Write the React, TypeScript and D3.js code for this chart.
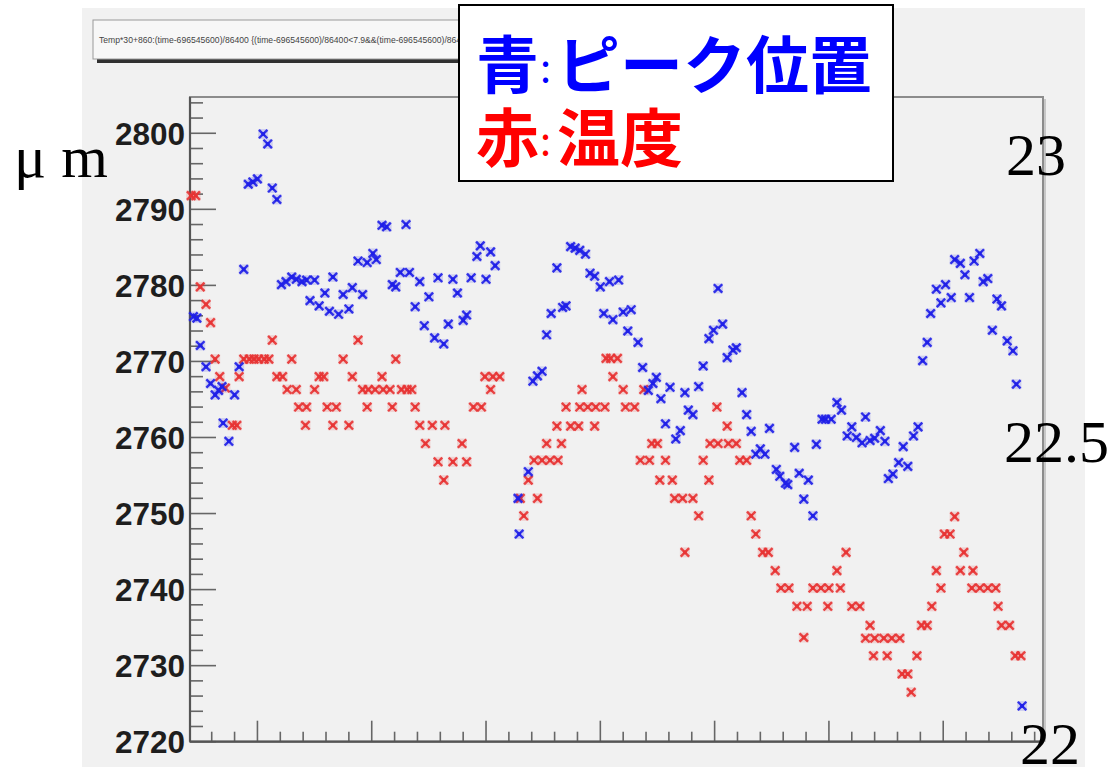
import React from "react";
import * as d3 from "d3";

// time in days (arbitrary origin), position in µm
const blueT = [0.44,0.47,0.50,0.55,0.59,0.63,0.66,0.69,0.70,0.75,0.80,0.84,0.88,0.92,0.96,1.00,1.05,1.09,1.13,1.17,1.21,1.25,1.30,1.34,1.39,1.43,1.46,1.50,1.54,1.59,1.63,1.66,1.71,1.75,1.80,1.83,1.88,1.92,1.96,2.01,2.04,2.09,2.13,2.18,2.21,2.25,2.30,2.33,2.38,2.42,2.46,2.50,2.55,2.58,2.63,2.67,2.71,2.75,2.80,2.83,2.87,2.92,2.95,3.00,3.04,3.08,3.28,3.29,3.37,3.41,3.45,3.49,3.53,3.57,3.62,3.67,3.70,3.74,3.78,3.82,3.87,3.91,3.95,4.00,4.03,4.08,4.11,4.16,4.20,4.24,4.27,4.33,4.37,4.42,4.46,4.49,4.53,4.57,4.61,4.66,4.70,4.74,4.77,4.81,4.86,4.90,4.95,4.99,5.03,5.07,5.11,5.16,5.19,5.24,5.28,5.32,5.36,5.40,5.44,5.48,5.54,5.57,5.62,5.64,5.70,5.74,5.78,5.82,5.86,5.89,5.94,5.97,6.02,6.07,6.11,6.16,6.20,6.24,6.29,6.32,6.36,6.40,6.45,6.49,6.52,6.56,6.61,6.65,6.69,6.74,6.78,6.82,6.86,6.89,6.94,6.98,7.02,7.07,7.10,7.15,7.19,7.23,7.27,7.32,7.35,7.39,7.43,7.47,7.51,7.56,7.61,7.64,7.69];
const blueV = [2775.9,2775.7,2772.1,2769.3,2767.1,2765.6,2766.2,2766.7,2761.9,2759.5,2765.6,2769.3,2782.1,2793.3,2793.6,2794.0,2799.9,2798.6,2792.8,2791.3,2780.1,2780.5,2781.1,2780.8,2780.5,2780.7,2778.0,2780.7,2777.3,2779.0,2776.6,2781.1,2776.2,2778.8,2776.9,2779.7,2783.2,2778.8,2783.0,2784.2,2783.4,2787.9,2787.7,2780.1,2779.8,2781.7,2788.0,2781.7,2777.2,2780.5,2774.7,2778.5,2773.1,2781.0,2772.3,2774.9,2780.8,2779.0,2775.4,2776.1,2781.0,2783.8,2785.2,2780.8,2784.4,2782.6,2752.0,2747.3,2755.5,2767.4,2768.1,2768.7,2773.5,2776.3,2782.3,2777.1,2777.3,2785.1,2784.9,2784.6,2784.1,2781.6,2781.2,2779.8,2776.3,2780.5,2775.5,2780.7,2776.5,2774.0,2776.8,2772.5,2769.2,2766.2,2767.1,2767.9,2765.1,2761.8,2766.6,2759.8,2760.9,2765.9,2763.6,2763.0,2766.7,2769.4,2773.0,2774.1,2779.6,2774.9,2770.5,2771.5,2771.8,2765.9,2763.0,2760.8,2757.8,2758.5,2757.8,2761.2,2755.8,2754.9,2754.0,2753.8,2758.7,2755.3,2751.9,2754.4,2749.7,2759.1,2762.4,2762.4,2762.4,2764.6,2763.6,2760.2,2761.4,2760.0,2759.3,2762.7,2759.6,2759.9,2760.9,2759.5,2754.6,2755.2,2756.7,2758.8,2756.2,2760.2,2761.4,2770.1,2772.5,2776.3,2779.5,2777.7,2780.1,2778.4,2783.4,2782.9,2781.4,2778.4,2783.2,2784.2,2780.5,2780.9,2774.1,2778.2,2777.3,2772.7,2771.4,2767.0,2724.7];

const redT = [0.42,0.46,0.50,0.55,0.59,0.63,0.67,0.72,0.78,0.82,0.84,0.88,0.93,0.97,1.01,1.06,1.10,1.13,1.17,1.22,1.26,1.30,1.34,1.36,1.42,1.43,1.50,1.54,1.58,1.61,1.66,1.69,1.75,1.80,1.83,1.88,1.92,1.96,1.97,2.03,2.09,2.10,2.16,2.18,2.21,2.26,2.31,2.35,2.38,2.42,2.47,2.53,2.58,2.63,2.64,2.71,2.79,2.83,2.89,2.96,2.99,3.04,3.06,3.12,3.30,3.33,3.37,3.42,3.45,3.49,3.53,3.56,3.62,3.63,3.66,3.70,3.74,3.81,3.82,3.84,3.89,3.95,3.96,4.04,4.05,4.09,4.11,4.15,4.20,4.22,4.30,4.35,4.38,4.43,4.45,4.50,4.52,4.57,4.63,4.65,4.72,4.74,4.81,4.86,4.90,4.95,4.96,5.02,5.03,5.11,5.12,5.19,5.22,5.28,5.32,5.36,5.42,5.47,5.53,5.58,5.65,5.72,5.78,5.81,5.86,5.93,5.99,6.00,6.07,6.10,6.15,6.20,6.27,6.32,6.36,6.39,6.40,6.48,6.51,6.55,6.62,6.64,6.69,6.72,6.77,6.81,6.86,6.90,6.94,6.98,7.01,7.06,7.10,7.15,7.18,7.25,7.26,7.32,7.39,7.46,7.48,7.51,7.58,7.63,7.68];
const redV = [2791.8,2791.8,2779.8,2777.5,2775.1,2770.3,2768.0,2766.5,2761.6,2761.6,2768.0,2770.3,2770.3,2770.3,2770.3,2770.3,2770.3,2772.8,2768.0,2768.0,2766.3,2770.3,2766.3,2764.0,2761.6,2764.0,2766.3,2768.0,2768.0,2764.0,2761.6,2764.0,2770.3,2761.6,2768.0,2772.8,2766.3,2764.0,2766.3,2766.3,2768.0,2766.3,2766.3,2764.0,2770.3,2766.3,2766.3,2766.3,2764.0,2761.6,2759.2,2761.6,2756.8,2754.4,2761.6,2756.8,2759.2,2756.8,2764.0,2764.0,2768.0,2766.3,2768.0,2768.0,2752.0,2749.7,2754.4,2757.0,2752.0,2757.0,2759.2,2757.0,2761.5,2757.0,2759.2,2764.0,2761.5,2761.5,2764.0,2766.3,2764.0,2761.5,2764.0,2764.0,2770.4,2770.4,2768.0,2770.4,2766.3,2764.0,2764.0,2757.0,2766.3,2757.0,2759.2,2759.2,2754.4,2757.0,2754.4,2752.0,2752.0,2744.9,2752.0,2749.7,2757.0,2754.4,2759.2,2764.0,2759.2,2761.5,2759.2,2759.2,2757.0,2757.0,2749.7,2747.3,2744.9,2744.9,2742.5,2740.2,2740.2,2737.8,2733.7,2737.8,2740.2,2740.2,2737.8,2740.2,2742.5,2740.2,2744.9,2737.8,2737.8,2733.6,2735.3,2731.3,2733.6,2733.6,2731.3,2733.6,2733.6,2728.9,2728.9,2726.5,2731.3,2735.3,2735.3,2737.8,2742.5,2740.2,2747.3,2747.3,2749.6,2742.5,2744.9,2740.2,2742.5,2740.2,2740.2,2740.2,2737.8,2735.3,2735.3,2731.3,2731.3];

const yMajorTicks = [2720, 2730, 2740, 2750, 2760, 2770, 2780, 2790, 2800];
const xMajorTicks = [1, 2, 3, 4, 5, 6, 7];
const tempLabels = ["23", "22.5", "22"];
const titleText = "Temp*30+860:(time-696545600)/86400 {(time-696545600)/86400<7.9&&(time-696545600)/86400>0.4}";
const legendBlue = ["青", ":", "ピーク位置"];
const legendRed = ["赤", ":", "温度"];
const unitLabel = "μ m";

const BLUE = "#1f1fe8";
const RED = "#e83434";

function Marker({ cx, cy, color }: { cx: number; cy: number; color: string }) {
  const s = 4.2;
  return (
    <g transform={`translate(${cx},${cy})`}>
      <rect x={-s - 0.8} y={-s - 0.8} width={2 * s + 1.6} height={2 * s + 1.6} fill={color} opacity={0.16} />
      <path d={`M${-s},${-s}L${s},${s}M${-s},${s}L${s},${-s}`} stroke={color} strokeWidth={2.4} opacity={0.9} />
      <rect x={-1.8} y={-1.8} width={3.6} height={3.6} fill={color} />
    </g>
  );
}

export default function App() {
  const W = 1117;
  const H = 767;
  const left = 190, right = 1043, top = 97, bottom = 741.7;
  const x = d3.scaleLinear().domain([0.41, 7.873]).range([left, right]);
  const y = d3.scaleLinear().domain([2720, 2804.77]).range([bottom, top]);

  const yMinor = d3.range(2722, 2805, 2).filter((v) => v % 10 !== 0);
  const xMinor = d3.range(0.6, 7.87, 0.2).filter((v) => Math.abs(v - Math.round(v)) > 0.05);

  const blue = blueT.map((t, i) => ({ t, v: blueV[i] }));
  const red = redT.map((t, i) => ({ t, v: redV[i] }));

  const cjk = "'Noto Sans CJK JP', 'Noto Sans', sans-serif";
  const serif = "'Liberation Serif', 'DejaVu Serif', serif";
  const sans = "'Liberation Sans', Arial, sans-serif";

  return (
    <svg width={W} height={H} style={{ position: "absolute", left: 0, top: 0, background: "#ffffff" }}>
      <rect x={0} y={0} width={W} height={H} fill="#ffffff" />
      {/* canvas */}
      <rect x={82} y={8} width={1003} height={H - 8} fill="#f1f1f1" />

      {/* title box */}
      <rect x={97} y={24} width={370} height={39} fill="#303030" />
      <rect x={93} y={20} width={370} height={39} fill="#f7f7f7" stroke="#9a9a9a" strokeWidth={1} />
      <text x={99} y={43} fontFamily={sans} fontSize={8.6} fill="#444">
        {titleText}
      </text>

      {/* frame */}
      <rect x={left} y={top} width={right - left} height={bottom - top} fill="#f1f1f1" stroke="#8c8c8c" strokeWidth={2} />
      <line x1={right + 2} y1={top + 2} x2={right + 2} y2={bottom} stroke="#c8c8c8" strokeWidth={2} />

      {/* y ticks */}
      {yMinor.map((v) => (
        <line key={"ym" + v} x1={left} x2={left + 13} y1={y(v)} y2={y(v)} stroke="#666" strokeWidth={1.6} />
      ))}
      {yMajorTicks.map((v) => (
        <line key={"yM" + v} x1={left} x2={left + 26} y1={y(v)} y2={y(v)} stroke="#666" strokeWidth={1.6} />
      ))}
      {yMajorTicks.map((v) => (
        <text key={"yl" + v} x={185} y={y(v)} dy="0.36em" textAnchor="end" fontFamily={sans} fontWeight="bold" fontSize={31.5} fill="#1e1e1e">
          {v}
        </text>
      ))}

      {/* x ticks */}
      {xMinor.map((v) => (
        <line key={"xm" + v} x1={x(v)} x2={x(v)} y1={bottom} y2={bottom - 10} stroke="#666" strokeWidth={1.6} />
      ))}
      {xMajorTicks.map((v) => (
        <line key={"xM" + v} x1={x(v)} x2={x(v)} y1={bottom} y2={bottom - 21} stroke="#666" strokeWidth={1.6} />
      ))}

      {/* axes */}
      <line x1={left} x2={left} y1={top} y2={bottom} stroke="#555" strokeWidth={2.2} />
      <line x1={left} x2={right} y1={bottom} y2={bottom} stroke="#555" strokeWidth={2.2} />

      {/* data */}
      {red.map((d, i) => (
        <Marker key={"r" + i} cx={x(d.t)} cy={y(d.v)} color={RED} />
      ))}
      {blue.map((d, i) => (
        <Marker key={"b" + i} cx={x(d.t)} cy={y(d.v)} color={BLUE} />
      ))}

      {/* legend */}
      <rect x={459} y={5} width={434} height={176} fill="#ffffff" stroke="#000" strokeWidth={2} />
      <text y={88} fontFamily={cjk} fontWeight="bold" fontSize={63} fill="#0000ff">
        <tspan x={476}>{legendBlue[0]}</tspan>
        <tspan x={540} fontWeight="normal" fontSize={40} dy={-6}>{legendBlue[1]}</tspan>
        <tspan x={557} dy={6}>{legendBlue[2]}</tspan>
      </text>
      <text y={161} fontFamily={cjk} fontWeight="bold" fontSize={63} fill="#ff0000">
        <tspan x={476}>{legendRed[0]}</tspan>
        <tspan x={540} fontWeight="normal" fontSize={40} dy={-6}>{legendRed[1]}</tspan>
        <tspan x={557} dy={6}>{legendRed[2]}</tspan>
      </text>

      {/* annotations */}
      <text x={14} y={177} fontFamily={serif} fontSize={60} fill="#000">{unitLabel}</text>
      <text x={1006} y={175} fontFamily={serif} fontSize={60} fill="#000">{tempLabels[0]}</text>
      <text x={1004} y={462} fontFamily={serif} fontSize={60} fill="#000">{tempLabels[1]}</text>
      <text x={1020} y={764} fontFamily={serif} fontSize={60} fill="#000">{tempLabels[2]}</text>
    </svg>
  );
}
